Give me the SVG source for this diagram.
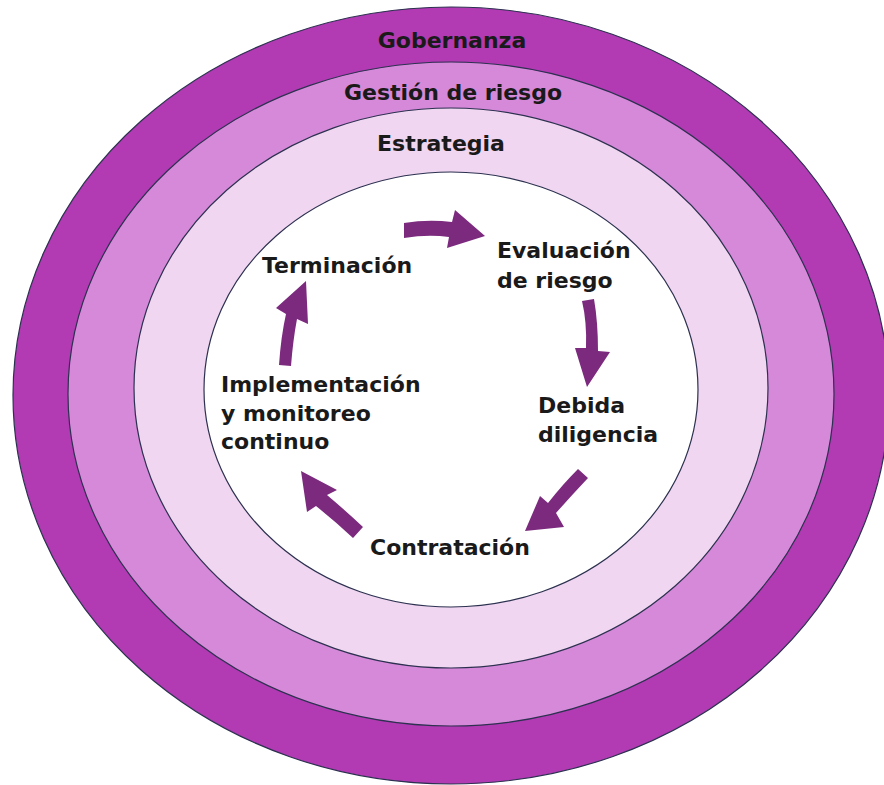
<svg xmlns="http://www.w3.org/2000/svg" width="884" height="785" viewBox="0 0 884 785">
<defs>
<style>
.ring{stroke:#2c3150;stroke-width:1.2}
.lbl{font-family:"DejaVu Sans","Liberation Sans",sans-serif;font-weight:bold;font-size:22px;fill:#1a1a1a}
.arrow{fill:#7b2a7e}
</style>
</defs>
<rect width="884" height="785" fill="#ffffff"/>
<g id="gobernanza">
<ellipse class="ring" cx="451" cy="395.5" rx="438" ry="388.5" fill="#b23ab3"/>
<text class="lbl" x="452" y="48" text-anchor="middle">Gobernanza</text>
</g>
<g id="gestion">
<ellipse class="ring" cx="451" cy="394" rx="383" ry="332" fill="#d689d9"/>
<text class="lbl" x="453" y="100" text-anchor="middle">Gestión de riesgo</text>
</g>
<g id="estrategia">
<ellipse class="ring" cx="451" cy="388" rx="317" ry="280" fill="#f0d6f0"/>
<text class="lbl" x="441" y="151" text-anchor="middle">Estrategia</text>
</g>
<g id="inner">
<ellipse class="ring" cx="451" cy="389.5" rx="247" ry="217.5" fill="#ffffff"/>
</g>
<g id="terminacion"><text class="lbl" x="262" y="273">Terminación</text></g>
<g id="evaluacion"><text class="lbl" x="497" y="258">Evaluación<tspan x="497" dy="30">de riesgo</tspan></text></g>
<g id="debida"><text class="lbl" x="538" y="413">Debida<tspan x="538" dy="29">diligencia</tspan></text></g>
<g id="contratacion"><text class="lbl" x="370" y="555">Contratación</text></g>
<g id="implementacion"><text class="lbl" x="221" y="392">Implementación<tspan x="221" dy="29">y monitoreo</tspan><tspan x="221" dy="28">continuo</tspan></text></g>
<g id="connectors">
<path class="arrow" d="M404,223 Q428,219 452,222 L455,210 L485,236 L447,248 L449,237 Q428,234 404,238 Z"/>
<path class="arrow" d="M582,301 Q587,322 586,348 L575,348 L587,387 L610,352 L598,351 Q598,322 594,299 Z"/>
<path class="arrow" d="M578,469 Q563,484 548,503 L540,496 L525,531 L564,527 L556,513 Q571,496 588,478 Z"/>
<path class="arrow" d="M353,538 Q336,522 316,506 L307,512 L301,471 L337,490 L327,495 Q346,511 363,527 Z"/>
<path class="arrow" d="M279,365 Q281,336 286,314 L276,308 L306,281 L308,324 L297,319 Q293,340 291,366 Z"/>
</g>
</svg>
